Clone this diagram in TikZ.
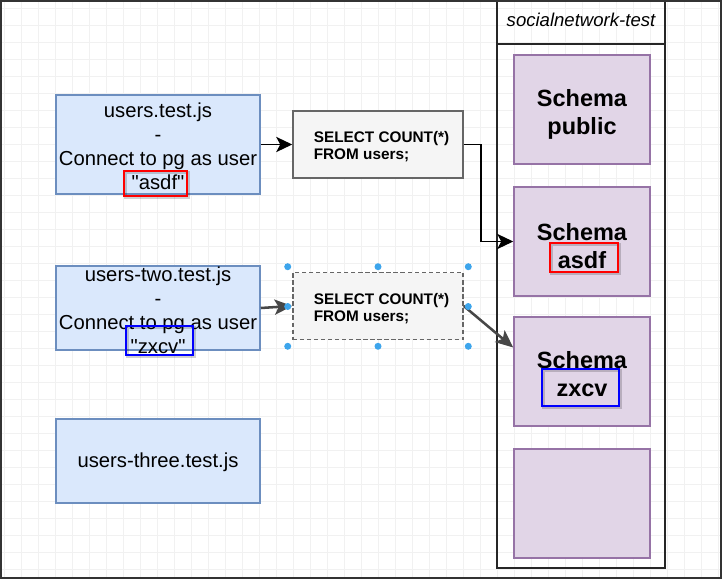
\documentclass[tikz,border=0pt]{standalone}
\usepackage{fontspec}
\setmainfont{Liberation Sans}[Ligatures=TeXOff]
\usepackage{tikz}
\usetikzlibrary{arrows.meta}

\definecolor{filefill}{HTML}{DAE8FC}
\definecolor{fileline}{HTML}{6C8EBF}
\definecolor{queryfill}{HTML}{F5F5F5}
\definecolor{queryline}{HTML}{666666}
\definecolor{schemafill}{HTML}{E1D5E7}
\definecolor{schemaline}{HTML}{9673A6}
\definecolor{handleblue}{HTML}{3DA5EC}
\definecolor{gridgray}{HTML}{F1F1F1}

\newcommand\pxu{0.025cm}

\begin{document}
\begin{tikzpicture}[x=0.025cm,y=-0.025cm]
    \tikzstyle{grid line}=[gridgray,line width=0.5pt]
    \tikzstyle{file}=[rectangle,draw=fileline,fill=filefill,line width=1.1pt,minimum width=204*\pxu,inner sep=0pt]
    \tikzstyle{file text}=[align=center,inner sep=0pt,font=\fontsize{14.4}{17}\selectfont]
    \tikzstyle{query}=[rectangle,draw=queryline,fill=queryfill,line width=1.1pt,minimum width=170*\pxu,minimum height=67*\pxu]
    \tikzstyle{query text}=[align=left,inner sep=0pt,font=\fontsize{10.9}{12}\selectfont\bfseries]
    \tikzstyle{schema}=[rectangle,draw=schemaline,fill=schemafill,line width=1.1pt,minimum width=136*\pxu,minimum height=109*\pxu]
    \tikzstyle{schema text}=[align=center,inner sep=0pt,font=\fontsize{16.7}{20}\selectfont\bfseries]
    \tikzstyle{box}=[rectangle,draw=black!85,line width=1.4pt,minimum width=168*\pxu]
    \tikzstyle{highlight}=[rectangle,line width=1.8pt,inner sep=0pt,
        preaction={draw=black,draw opacity=0.18,transform canvas={xshift=1pt,yshift=-1pt}}]
    \tikzstyle{handle}=[circle,fill=handleblue,inner sep=0pt,minimum size=7*\pxu]
    \tikzstyle{link}=[line width=1.1pt,-{Stealth[length=0.4cm,width=0.38cm,inset=0.1cm]}]
    \tikzstyle{link sel}=[draw=black!72,line width=1.8pt,-{Stealth[length=0.44cm,width=0.38cm,inset=0.1cm]}]

    \useasboundingbox (0,0) rectangle (722,579);
    % background grid
    \foreach \gx in {4,21,...,718} \draw[grid line] (\gx,0) -- (\gx,579);
    \foreach \gy in {8,25,...,575} \draw[grid line] (0,\gy) -- (722,\gy);

    % Draw the test files
    \node[file, minimum height=99*\pxu] (T-1) at (158,144.5) {};
    \node[file, minimum height=84*\pxu] (T-2) at (158,308) {};
    \node[file, minimum height=84*\pxu] (T-3) at (158,461) {};
    \node[file text] (T-1-txt) at (158,146) {users.test.js\\-\\Connect to pg as user\\"asdf"};
    \node[file text] (T-2-txt) at (158,310.5) {users-two.test.js\\-\\Connect to pg as user\\"zxcv"};
    \node[file text] (T-3-txt) at (158,462) {users-three.test.js};

    % queries
    \node[query] (Q-1) at (378,144.5) {};
    \node[query, densely dashed] (Q-2) at (378,306) {};
    \node[query text] (Q-1-txt) at (381.5,147) {SELECT COUNT(*)\\FROM users;};
    \node[query text] (Q-2-txt) at (381.5,309) {SELECT COUNT(*)\\FROM users;};

    % the database and its schemas
    \node[box, minimum height=48*\pxu, font=\fontsize{13.2}{15}\selectfont\itshape] (C-head) at (581,20) {socialnetwork-test};
    \node[box, minimum height=524*\pxu] (C-body) at (581,306) {};
    \node[schema] (S-1) at (582,109.5) {};
    \node[schema] (S-2) at (582,241.5) {};
    \node[schema] (S-3) at (582,371.5) {};
    \node[schema] (S-4) at (582,503.5) {};
    \node[schema text] (S-1-txt) at (582,114) {Schema\\public};
    \node[schema text] (S-2-txt) at (582,246) {Schema\\asdf};
    \node[schema text] (S-3-txt) at (582,374) {Schema\\zxcv};

    % highlights
    \node[highlight, draw=red, minimum width=63*\pxu, minimum height=25*\pxu] (M-1) at (155.5,183.5) {};
    \node[highlight, draw=blue, minimum width=67*\pxu, minimum height=29*\pxu] (M-2) at (159.5,340.5) {};
    \node[highlight, draw=red, minimum width=68*\pxu, minimum height=29*\pxu] (M-3) at (584,257.5) {};
    \node[highlight, draw=blue, minimum width=77*\pxu, minimum height=37*\pxu] (M-4) at (580.5,387.5) {};

    % connections
    \draw[link] (T-1) -- (Q-1);
    \draw[link] (Q-1.east) -- ++(17,0) |- (S-2.west);
    \draw[link sel] (T-2.east) -- (Q-2.west);
    \draw[link sel] (Q-2.east) -- ([yshift=0.6cm]S-3.west);

    % selection handles
    \node[minimum width=180*\pxu, minimum height=79*\pxu, inner sep=0pt] (Q-2-sel) at (378,306.5) {};
    \foreach \a in {north west,north,north east,east,south east,south,south west,west}
        \node[handle] at (Q-2-sel.\a) {};

    % frame
    \draw[black!80, line width=1.5pt] (1,1) rectangle (721,578);
\end{tikzpicture}
\end{document}
